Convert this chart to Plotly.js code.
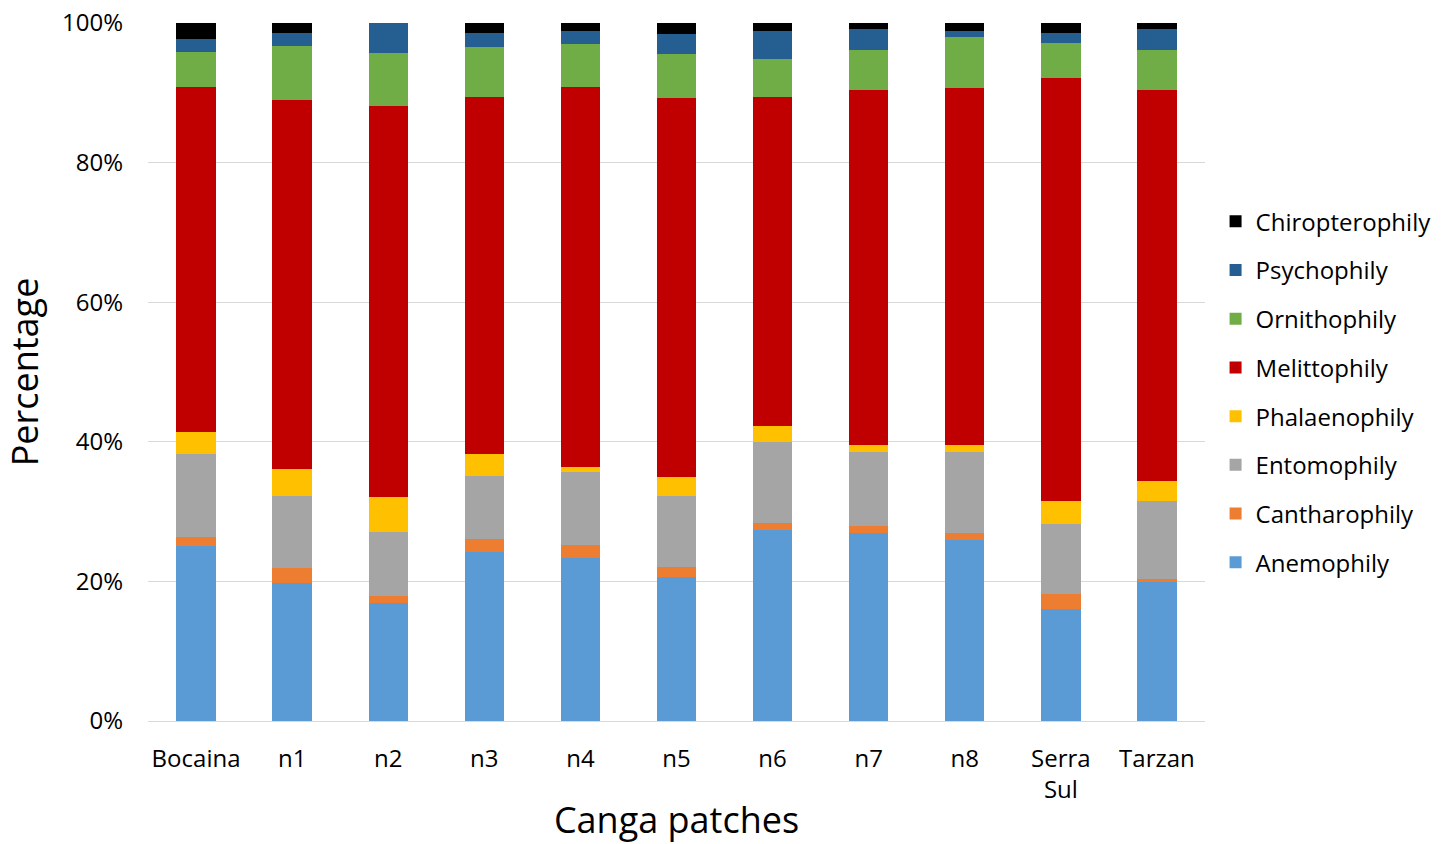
<!DOCTYPE html>
<html>
<head>
<meta charset="utf-8">
<script src="https://cdn.plot.ly/plotly-3.0.1.min.js"></script>
<style>html,body{margin:0;padding:0;background:#fff;}#chart{width:1452px;height:844px;}</style>
</head>
<body>
<div id="chart"></div>
<script>
const categories = ["Bocaina", "n1", "n2", "n3", "n4", "n5", "n6", "n7", "n8", "Serra<br>Sul", "Tarzan"];

const anemophily      = [25.1, 19.7, 16.9, 24.2, 23.3, 20.7, 27.4, 26.9, 25.9, 16.1, 19.9];
const cantharophily   = [1.2, 2.2, 1.0, 1.9, 1.9, 1.3, 1.0, 1.0, 1.1, 2.1, 0.4];
const entomophily     = [12.0, 10.3, 9.2, 9.0, 10.5, 10.3, 11.6, 10.7, 11.5, 10.0, 11.2];
const phalaenophily   = [3.1, 3.9, 5.0, 3.1, 0.7, 2.7, 2.2, 0.9, 1.1, 3.3, 2.9];
const melittophily    = [49.4, 52.8, 56.0, 51.2, 54.4, 54.2, 47.2, 50.9, 51.1, 60.6, 56.0];
const ornithophily    = [5.1, 7.8, 7.6, 7.1, 6.2, 6.4, 5.4, 5.7, 7.3, 5.1, 5.7];
const psychophily     = [1.8, 1.9, 4.3, 2.1, 1.8, 2.8, 4.1, 3.0, 0.9, 1.4, 3.0];
const chiropterophily = [2.3, 1.4, 0.0, 1.4, 1.2, 1.6, 1.1, 0.9, 1.1, 1.4, 0.9];

const seriesNames = ["Anemophily", "Cantharophily", "Entomophily", "Phalaenophily", "Melittophily", "Ornithophily", "Psychophily", "Chiropterophily"];
const seriesValues = [anemophily, cantharophily, entomophily, phalaenophily, melittophily, ornithophily, psychophily, chiropterophily];
const seriesColors = ["#5B9BD5", "#ED7D31", "#A5A5A5", "#FFC000", "#C00000", "#70AD47", "#255E91", "#000000"];

const FONT = "Open Sans, Noto Sans, sans-serif";

const traces = seriesNames.map((name, i) => ({
  type: "bar",
  name: name,
  x: categories,
  y: seriesValues[i],
  marker: { color: seriesColors[i], line: { width: 0 } },
  legendgroup: name,
  legendrank: 100 - i,
  hoverinfo: "x+y+name"
}));

const layout = {
  width: 1452,
  height: 844,
  barmode: "stack",
  bargap: 0.59,
  paper_bgcolor: "#ffffff",
  plot_bgcolor: "#ffffff",
  margin: { l: 148, r: 247, t: 23, b: 123, pad: 0 },
  font: { family: FONT, color: "#000000", size: 24 },
  showlegend: true,
  legend: {
    traceorder: "grouped",
    x: 1.010, xanchor: "left",
    y: 0.471, yanchor: "middle",
    font: { family: FONT, size: 24, color: "#000000" },
    tracegroupgap: 14.5,
    itemwidth: 30,
    bgcolor: "rgba(0,0,0,0)"
  },
  xaxis: {
    type: "category",
    tickfont: { family: FONT, size: 24, color: "#000000" },
    showline: true, linecolor: "#d9d9d9", linewidth: 1,
    showgrid: false, ticks: "",
    ticklabelstandoff: 16,
    title: { text: "Canga patches", font: { family: FONT, size: 36, color: "#000000" }, standoff: 19 }
  },
  yaxis: {
    range: [0, 100],
    dtick: 20,
    ticksuffix: "%",
    tickfont: { family: FONT, size: 24, color: "#000000" },
    showgrid: true, gridcolor: "#d9d9d9", gridwidth: 1,
    zeroline: true, zerolinecolor: "#d9d9d9",
    ticks: "", ticklabelstandoff: 24,
    title: { text: "Percentage", font: { family: FONT, size: 36, color: "#000000" }, standoff: 15 }
  }
};

Plotly.newPlot("chart", traces, layout, { displayModeBar: false, staticPlot: true });
</script>
</body>
</html>
